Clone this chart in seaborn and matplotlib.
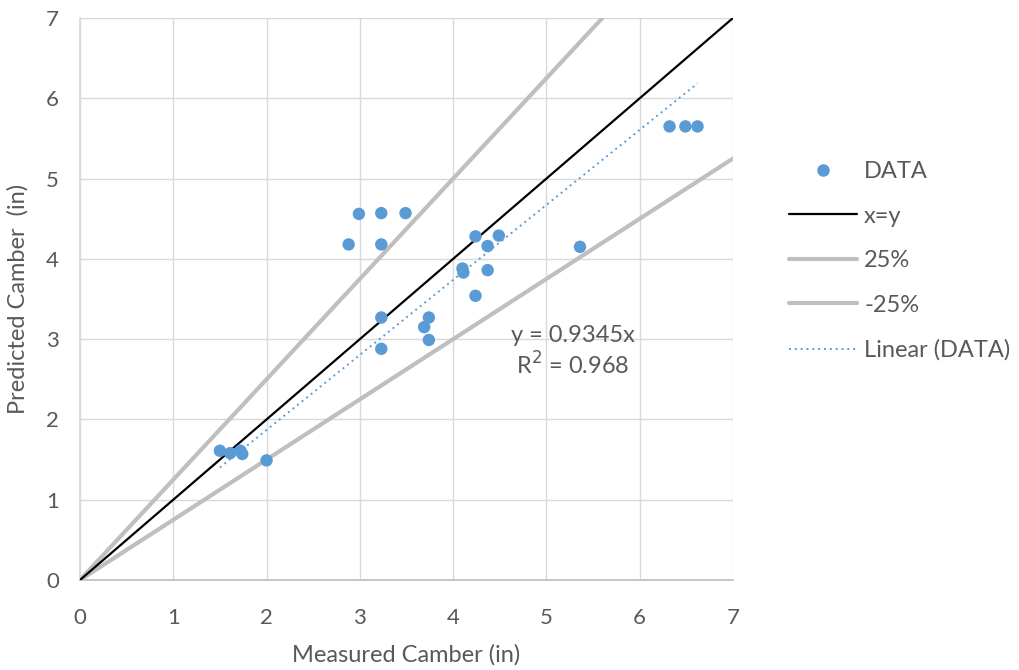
import numpy as np
import pandas as pd
import matplotlib
matplotlib.use("Agg")
import matplotlib.pyplot as plt
import seaborn as sns
from matplotlib.lines import Line2D

# Measured vs predicted camber (in)
measured = [1.50, 1.61, 1.72, 1.74, 2.00,
            2.88, 2.99, 3.23, 3.23, 3.49,
            3.23, 3.23, 3.74, 3.69, 3.74,
            4.10, 4.11, 4.24, 4.37, 4.49, 4.37, 4.24,
            5.36, 6.32, 6.49, 6.62]
predicted = [1.61, 1.58, 1.61, 1.57, 1.49,
             4.18, 4.56, 4.57, 4.18, 4.57,
             3.27, 2.88, 3.27, 3.15, 2.99,
             3.88, 3.83, 4.28, 4.16, 4.29, 3.86, 3.54,
             4.15, 5.65, 5.65, 5.65]

slope = 0.9345
r_squared = 0.968
bounds = [0.25, -0.25]
ticks = list(range(0, 8))

sns.set_theme(style="white")
plt.rcParams["font.family"] = ["Lato", "DejaVu Sans"]

text_col = "#595959"
blue = "#5b9bd5"
gray = "#bfbfbf"

fig = plt.figure(figsize=(10.2, 6.7), dpi=100)
ax = fig.add_axes([0.0784, 0.1343, 0.6402, 0.8388])

df = pd.DataFrame({"Measured": measured, "Predicted": predicted})

# reference lines
sns.lineplot(x=[0, 7], y=[0, 7], ax=ax, color="black", lw=1.6, zorder=3)
for b in bounds:
    k = 1 + b
    xe = min(7, 7 / k)
    sns.lineplot(x=[0, xe], y=[0, k * xe], ax=ax, color=gray, lw=3, zorder=2)

# linear trend through origin
xs = np.array([min(measured), max(measured)])
sns.lineplot(x=xs, y=slope * xs, ax=ax, color=blue, lw=1.4,
             linestyle=(0, (1, 2)), zorder=4)

sns.scatterplot(data=df, x="Measured", y="Predicted", ax=ax, color=blue,
                s=80, edgecolor="none", zorder=5)

ax.set_xlim(0, 7)
ax.set_ylim(0, 7)
ax.set_xticks(ticks)
ax.set_yticks(ticks)
ax.grid(True, color="#d9d9d9", lw=1)
for s in ax.spines.values():
    s.set_visible(False)
ax.spines["bottom"].set_visible(True)
ax.spines["bottom"].set_color("#bfbfbf")
ax.spines["left"].set_visible(True)
ax.spines["left"].set_color("#d9d9d9")
ax.tick_params(axis="x", colors=text_col, labelsize=16, length=0, pad=20)
ax.tick_params(axis="y", colors=text_col, labelsize=16, length=0, pad=15)
ax.set_xlabel("Measured Camber (in)", color=text_col, fontsize=17, labelpad=12)
ax.set_ylabel("Predicted Camber  (in)", color=text_col, fontsize=17, labelpad=13)

ax.text(5.28, 3.05, f"y = {slope}x", color=text_col, fontsize=17,
        ha="center", va="center")
ax.text(5.28, 2.68, f"R$^2$ = {r_squared}", color=text_col, fontsize=17,
        ha="center", va="center")

handles = [
    Line2D([], [], marker="o", color=blue, lw=0, markersize=8),
    Line2D([], [], color="black", lw=1.6),
    Line2D([], [], color=gray, lw=3),
    Line2D([], [], color=gray, lw=3),
    Line2D([], [], color=blue, lw=1.4, linestyle=(0, (1, 2))),
]
labels = ["DATA", "x=y", "25%", "-25%", "Linear (DATA)"]
leg = fig.legend(handles, labels, loc="upper left", bbox_to_anchor=(0.757, 0.7845),
                 frameon=False, fontsize=17, handlelength=2.9, handletextpad=0.3,
                 labelspacing=1.0, borderpad=0.2)
for t in leg.get_texts():
    t.set_color(text_col)

fig.savefig("out.png", dpi=100, facecolor="white")
